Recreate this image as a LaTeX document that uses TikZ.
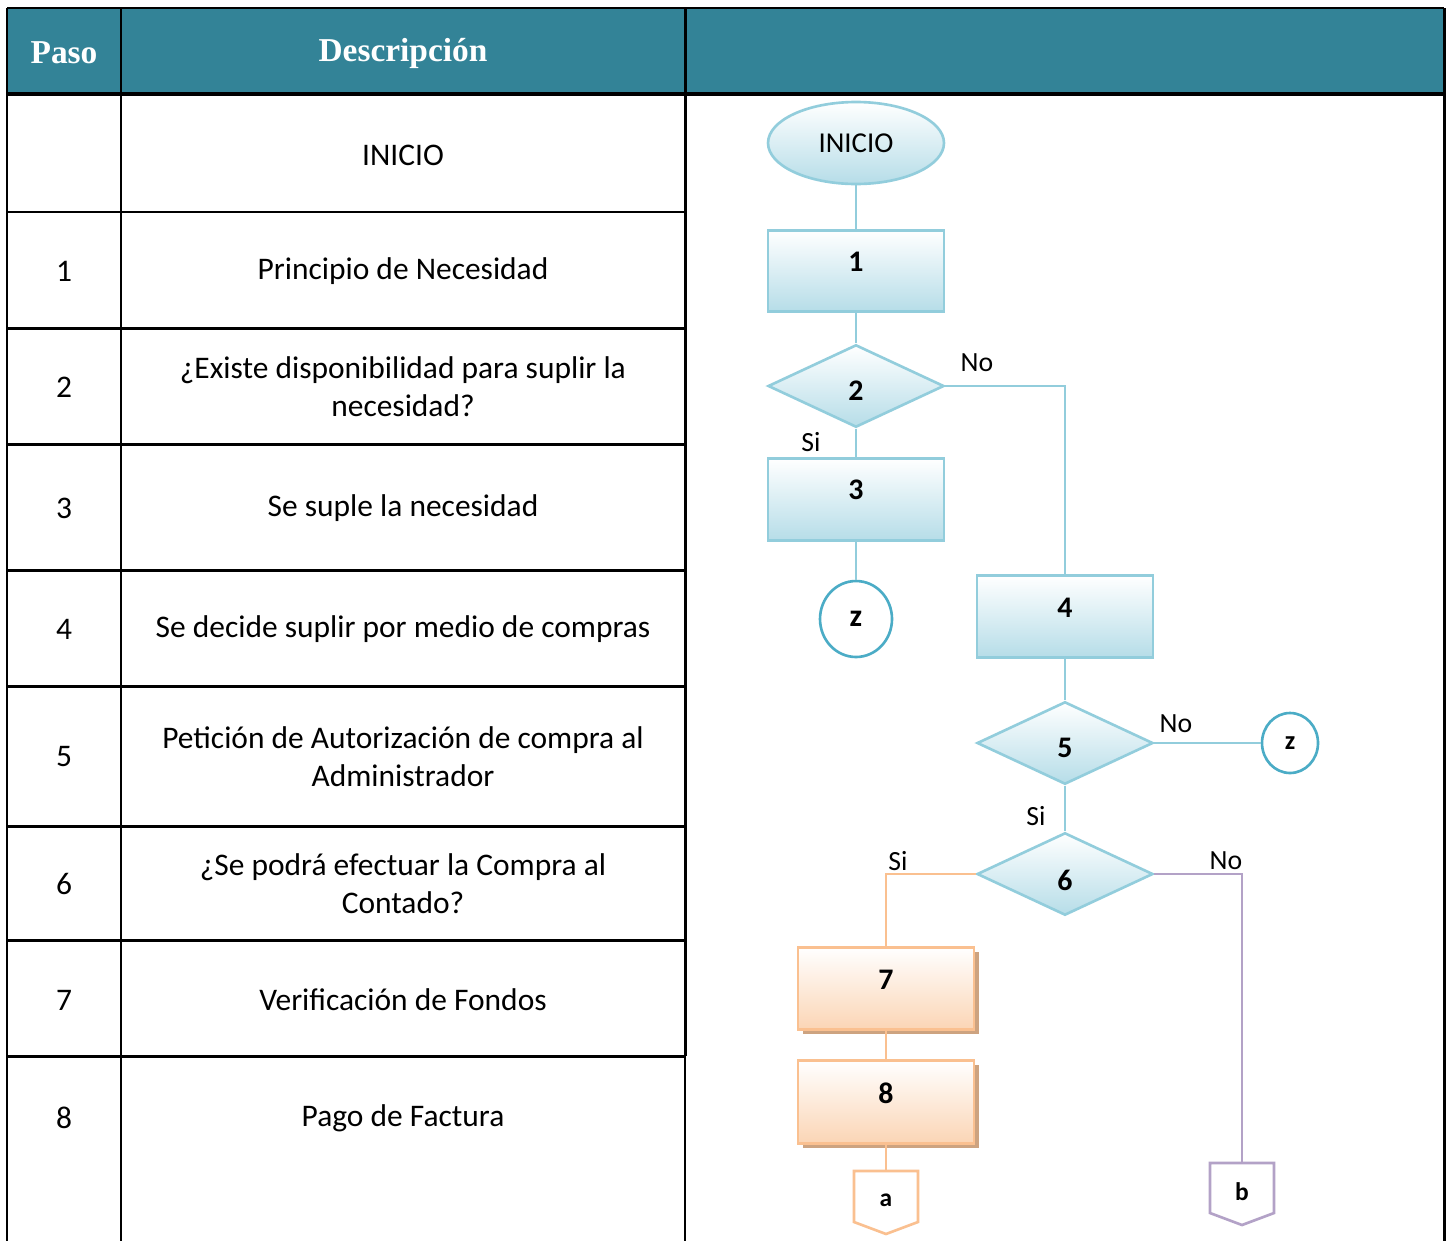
\documentclass[tikz,border=0pt]{standalone}
\usepackage{fontspec}
\setmainfont{Carlito}
\newfontfamily\headfont{Liberation Serif}
\usetikzlibrary{shapes.geometric,shadows}

\definecolor{headteal}{RGB}{51,131,151}
\definecolor{lineblue}{RGB}{146,205,220}
\definecolor{fillblue}{RGB}{182,221,232}
\definecolor{ringblue}{RGB}{75,172,198}
\definecolor{lineorange}{RGB}{250,192,144}
\definecolor{fillorange}{RGB}{251,213,181}
\definecolor{shadowtan}{RGB}{205,163,128}
\definecolor{linepurple}{RGB}{179,162,199}

\begin{document}
\begin{tikzpicture}[x=0.02cm,y=-0.02cm,
  rule/.style={line width=1.7pt,black},
  headtxt/.style={font=\headfont\bfseries\fontsize{19pt}{22pt}\selectfont,text=white},
  celltxt/.style={font=\fontsize{17.9pt}{21.6pt}\selectfont,align=center},
  numlbl/.style={font=\bfseries\fontsize{17pt}{20pt}\selectfont},
  branch/.style={font=\fontsize{15.8pt}{19pt}\selectfont,inner sep=0pt},
  bluebox/.style={rectangle,draw=lineblue,line width=1.5pt,top color=white,bottom color=fillblue,
    minimum width=3.52cm,minimum height=1.63cm,inner sep=0pt},
  orangebox/.style={rectangle,draw=lineorange,line width=1.5pt,top color=white,bottom color=fillorange,
    minimum width=3.52cm,minimum height=1.65cm,inner sep=0pt,
    drop shadow={shadow xshift=2.6pt,shadow yshift=-2.6pt,fill=shadowtan,opacity=1}},
  decision/.style={diamond,draw=lineblue,line width=1.5pt,top color=white,bottom color=fillblue,
    minimum width=3.52cm,minimum height=1.65cm,inner sep=0pt},
  terminal/.style={ellipse,draw=lineblue,line width=1.5pt,top color=white,bottom color=fillblue,
    minimum width=3.52cm,minimum height=1.64cm,inner sep=0pt,font=\fontsize{16.4pt}{19pt}\selectfont},
  ring/.style={ellipse,draw=ringblue,line width=1.5pt,fill=white,inner sep=0pt,font=\bfseries\fontsize{18pt}{21pt}\selectfont},
  blueflow/.style={draw=lineblue,line width=1.6pt},
  orangeflow/.style={draw=lineorange,line width=1.6pt},
  purpleflow/.style={draw=linepurple,line width=1.6pt},
  pagetxt/.style={font=\bfseries\fontsize{14.5pt}{17pt}\selectfont,inner sep=0pt}
]
\useasboundingbox (0,0) rectangle (1449,1241);
\fill[white] (0,0) rectangle (1449,1241);

% ---------- table ----------
\fill[headteal] (7,8) rectangle (1444,94);
\draw[rule] (7,8) -- (1444,8);
\draw[rule] (7,8) -- (7,1241);
\draw[rule] (121,8) -- (121,1241);
\draw[rule] (685,8) -- (685,1056);
\draw[line width=1.2pt] (685,1056) -- (685,1241);
\draw[rule] (1444,8) -- (1444,1241);
\draw[line width=2.8pt] (7,94) -- (1444,94);
\foreach \yy in {212,328,444,570,686,826,940,1056}
  \draw[rule] (7,\yy) -- (685,\yy);

\node[headtxt] (hpaso) at (64,53) {Paso};
\node[headtxt] (hdesc) at (403,53) {Descripción};

\node[celltxt] (d0) at (403,155) {INICIO};
\node[celltxt] (p1) at (64,271) {1};
\node[celltxt] (d1) at (403,271) {Principio de Necesidad};
\node[celltxt] (p2) at (64,387) {2};
\node[celltxt] (d2) at (403,387) {¿Existe disponibilidad para suplir la\\necesidad?};
\node[celltxt] (p3) at (64,508) {3};
\node[celltxt] (d3) at (403,508) {Se suple la necesidad};
\node[celltxt] (p4) at (64,629) {4};
\node[celltxt] (d4) at (403,629) {Se decide suplir por medio de compras};
\node[celltxt] (p5) at (64,757) {5};
\node[celltxt] (d5) at (403,757) {Petición de Autorización de compra al\\Administrador};
\node[celltxt] (p6) at (64,884) {6};
\node[celltxt] (d6) at (403,884) {¿Se podrá efectuar la Compra al\\Contado?};
\node[celltxt] (p7) at (64,1000) {7};
\node[celltxt] (d7) at (403,1000) {Verificación de Fondos};
\node[celltxt] (p8) at (64,1118) {8};
\node[celltxt] (d8) at (403,1118) {Pago de Factura};

% ---------- flowchart ----------
\node[terminal] (start) at (856,143) {INICIO};
\node[bluebox,label={[numlbl,yshift=5.1pt]center:1}] (s1) at (856,271) {};
\node[decision,label={[numlbl,yshift=-2.8pt]center:2}] (q2) at (856,386) {};
\node[bluebox,label={[numlbl,yshift=5.3pt]center:3}] (s3) at (856,499.5) {};
\node[ring,minimum width=1.44cm,minimum height=1.52cm] (z1) at (856,619) {z};
\node[bluebox,label={[numlbl,yshift=4.8pt]center:4}] (s4) at (1065,616.5) {};
\node[decision,label={[numlbl,yshift=-2.8pt]center:5}] (q5) at (1065,743) {};
\node[ring,minimum width=1.12cm,minimum height=1.2cm,font=\bfseries\fontsize{15pt}{18pt}\selectfont] (z2) at (1290,743) {z};
\node[decision,label={[numlbl,yshift=-3.4pt]center:6}] (q6) at (1065,874) {};
\node[orangebox,label={[numlbl,yshift=4.8pt]center:7}] (s7) at (886,988.5) {};
\node[orangebox,label={[numlbl,yshift=5.1pt]center:8}] (s8) at (886,1102) {};

% off-page connectors
\coordinate (atop) at (886,1171);
\coordinate (btop) at (1242,1163);
\draw[draw=lineorange,line width=1.5pt,fill=white,line join=miter]
  (854,1171) -- (918,1171) -- (918,1222) -- (886,1234) -- (854,1222) -- cycle;
\node[pagetxt] (pa) at (886,1200) {a};
\draw[draw=linepurple,line width=1.5pt,fill=white,line join=miter]
  (1210,1163) -- (1274,1163) -- (1274,1213) -- (1242,1225) -- (1210,1213) -- cycle;
\node[pagetxt] (pb) at (1242,1192) {b};

% connectors
\draw[blueflow] (start) -- (s1);
\draw[blueflow] (s1) -- (q2);
\draw[blueflow] (q2.east) -| (s4.north);
\draw[blueflow] (q2.south) -- (s3.north);
\draw[blueflow] (s3) -- (z1);
\draw[blueflow] (s4) -- (q5);
\draw[blueflow] (q5.east) -- (z2.west);
\draw[blueflow] (q5) -- (q6);
\draw[orangeflow] (q6.west) -| (s7.north);
\draw[orangeflow] (s7) -- (s8);
\draw[orangeflow] (s8.south) -- (atop);
\draw[purpleflow] (q6.east) -| (btop);

% branch labels
\node[branch] (no2) at (977,363) {No};
\node[branch] (si2) at (811,442) {Si};
\node[branch] (no5) at (1176,724) {No};
\node[branch] (si5) at (1036,816) {Si};
\node[branch] (si6) at (898,861) {Si};
\node[branch] (no6) at (1226,861) {No};
\end{tikzpicture}
\end{document}
